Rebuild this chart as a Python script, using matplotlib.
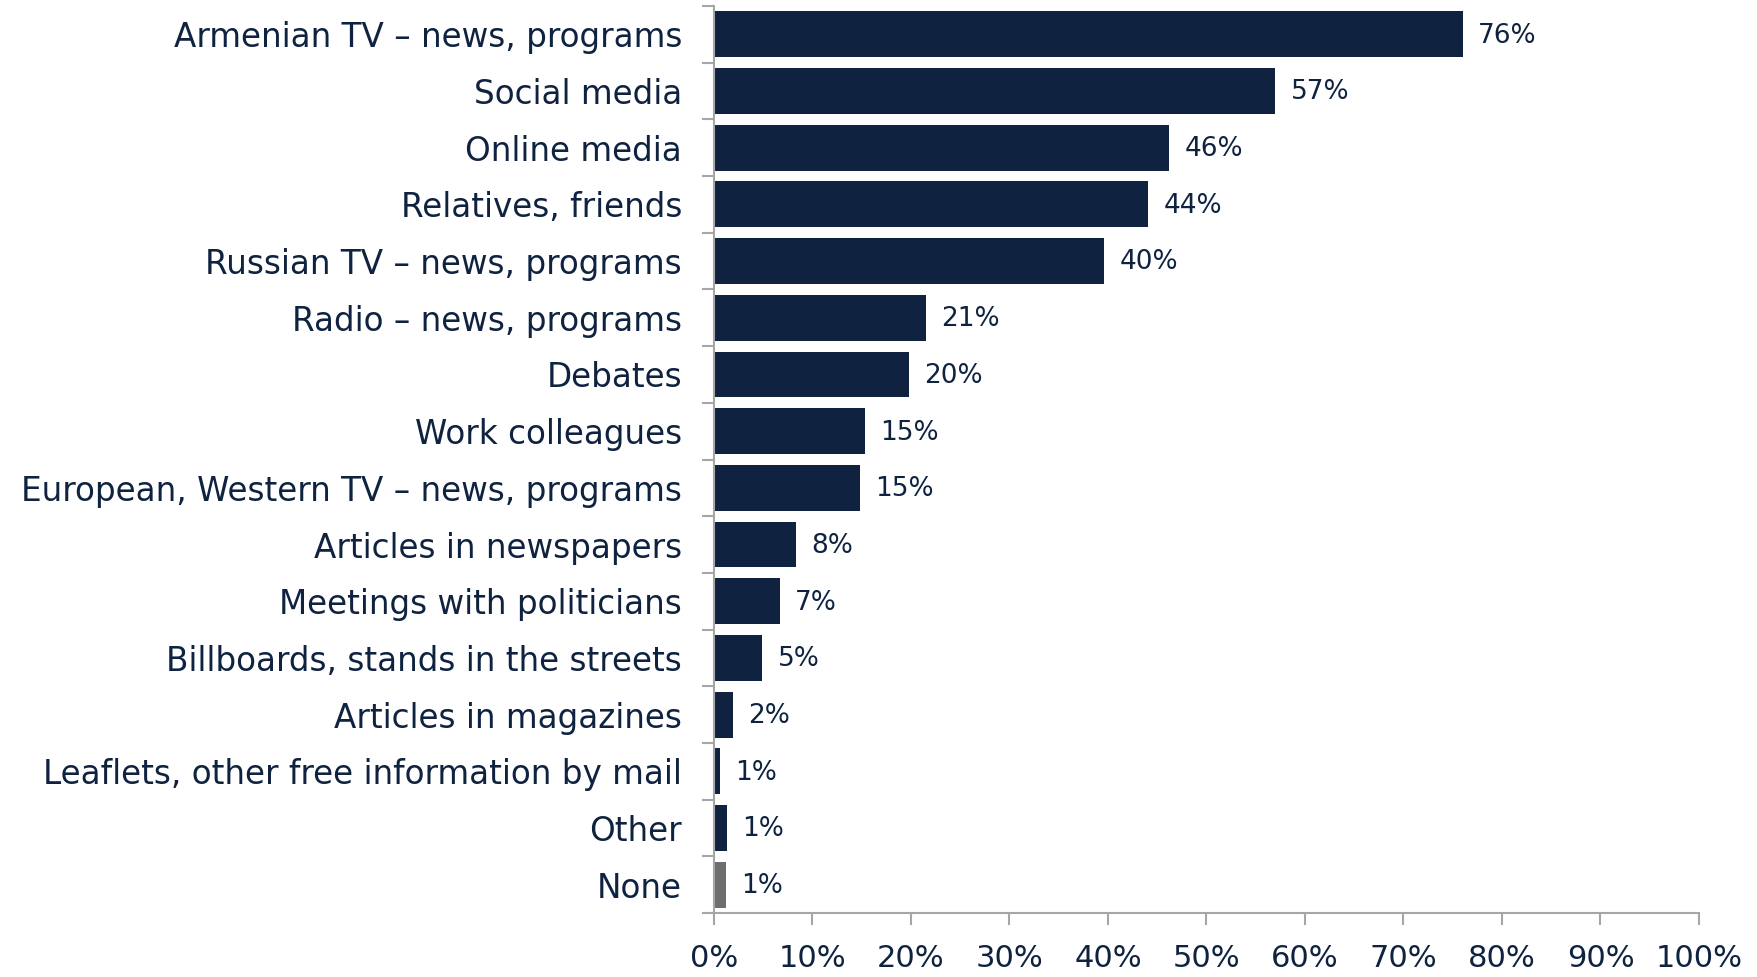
import numpy as np
import matplotlib.pyplot as plt

# Survey data: sources of information
categories = ['Armenian TV \u2013 news, programs', 'Social media', 'Online media',
              'Relatives, friends', 'Russian TV \u2013 news, programs',
              'Radio \u2013 news, programs', 'Debates', 'Work colleagues',
              'European, Western TV \u2013 news, programs', 'Articles in newspapers',
              'Meetings with politicians', 'Billboards, stands in the streets',
              'Articles in magazines', 'Leaflets, other free information by mail',
              'Other', 'None']
values = [76.0, 57.0, 46.2, 44.1, 39.6, 21.5, 19.8, 15.3, 14.8, 8.3, 6.7, 4.9, 1.9, 0.6, 1.3, 1.25]
value_labels = ['76%', '57%', '46%', '44%', '40%', '21%', '20%', '15%', '15%', '8%', '7%',
                '5%', '2%', '1%', '1%', '1%']
xticks = np.arange(0, 101, 10)

navy = '#0f2340'
grey_line = '#a6a6a6'
colors = [navy] * (len(categories) - 1) + ['#6e6e6e']

plt.rcParams['font.family'] = ['DejaVu Sans']
fig = plt.figure(figsize=(17.58, 9.77), dpi=100)
ax = fig.add_axes([714 / 1758, 1 - 913 / 977, 985 / 1758, 907 / 977])

y = np.arange(len(categories))
ax.barh(y, values, height=0.81, color=colors)
ax.set_ylim(len(categories) - 0.5, -0.5)
ax.set_xlim(0, 100)

for yi, v, lab in zip(y, values, value_labels):
    ax.annotate(lab, (v, yi), xytext=(11, -1), textcoords='offset points',
                va='center', ha='left', fontsize=19, color=navy)

ax.set_yticks(y)
ax.set_yticklabels(categories, fontsize=23.5, color=navy)
ax.set_yticks(np.arange(-0.5, len(categories)), minor=True)
ax.tick_params(axis='y', which='major', length=0, pad=23)
ax.tick_params(axis='y', which='minor', length=8.5, color=grey_line, width=1.5)

ax.set_xticks(xticks)
ax.set_xticklabels([f'{t}%' for t in xticks], fontsize=22, color=navy)
ax.tick_params(axis='x', length=8.5, color=grey_line, width=1.5, pad=14)

for s in ['top', 'right']:
    ax.spines[s].set_visible(False)
for s in ['left', 'bottom']:
    ax.spines[s].set_color(grey_line)
    ax.spines[s].set_linewidth(1.5)

fig.savefig('out.png', dpi=100)
